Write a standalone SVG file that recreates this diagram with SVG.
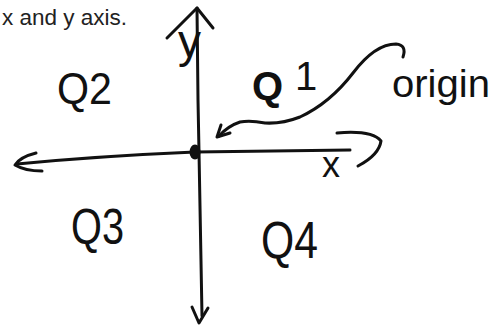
<svg xmlns="http://www.w3.org/2000/svg" width="501" height="327" viewBox="0 0 501 327">
<style>
.ln{fill:none;stroke:#111;stroke-width:3;stroke-linecap:round;stroke-linejoin:round}
.hw{font-family:"Liberation Sans","DejaVu Sans",sans-serif;fill:#111}
</style>
<rect width="501" height="327" fill="#fff"/>
<text x="2" y="25" font-family="'Liberation Sans',Arial,sans-serif" font-size="22.5" fill="#222">x and y axis.</text>
<g id="axes">
<path class="ln" d="M197,8 L198,100 L199,152 L202,316"/>
<path class="ln" d="M167,38 L197,8 L213,28"/>
<path class="ln" d="M192,307 L199,323 L208,308"/>
<path class="ln" d="M17,164 Q100,156 195,152 L350,150"/>
<path class="ln" d="M36,153 Q20,157 15,165 Q25,171 42,171"/>
<path class="ln" d="M337,133 Q372,130 381,141 Q379,155 358,166"/>
<ellipse cx="195" cy="152" rx="5.5" ry="7.5" fill="#111"/>
</g>
<g id="origin-pointer">
<path class="ln" d="M403,57 Q407,45 396,44 Q375,44 353,73 Q330,103 300,117 Q282,124 265,123 Q250,120 240,122 Q228,126 219,136"/>
<path class="ln" d="M221,125 L217,137 L230,133"/>
</g>
<g id="labels">
<text class="hw" x="178" y="57" font-size="46">y</text>
<text class="hw" x="322" y="177" font-size="36">x</text>
<text class="hw" x="57" y="104" font-size="44" textLength="55" lengthAdjust="spacingAndGlyphs">Q2</text>
<text class="hw" x="252" y="100" font-size="40" font-weight="bold">Q<tspan x="295" y="90" font-weight="normal">1</tspan></text>
<text class="hw" x="392" y="97" font-size="38" textLength="98" lengthAdjust="spacingAndGlyphs">origin</text>
<text class="hw" x="71" y="244" font-size="50" textLength="53" lengthAdjust="spacingAndGlyphs">Q3</text>
<text class="hw" x="261" y="258" font-size="52" textLength="57" lengthAdjust="spacingAndGlyphs">Q4</text>
</g>
</svg>
